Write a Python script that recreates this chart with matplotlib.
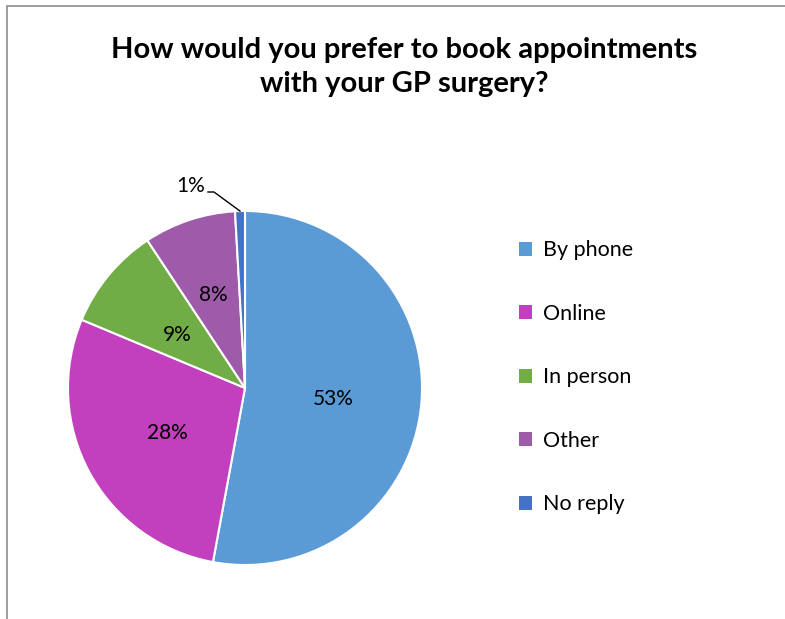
import numpy as np
import matplotlib.pyplot as plt
from matplotlib.patches import Rectangle

# survey answers (percent)
categories = ['By phone', 'Online', 'In person', 'Other', 'No reply']
values = [52.9, 28.4, 9.4, 8.4, 0.9]
pct_labels = ['53%', '28%', '9%', '8%', '1%']
colors = ['#5B9BD5', '#C23FBD', '#70AD47', '#9E5BAA', '#4472C4']

plt.rcParams['font.family'] = ['Lato', 'DejaVu Sans']

W, H = 785, 619
fig = plt.figure(figsize=(W / 100, H / 100), dpi=100)
ax = fig.add_axes([0, 0, 1, 1])

cx, cy, r = 245, H - 388, 177
wedges, _ = ax.pie(values, colors=colors, startangle=90, counterclock=False,
                   center=(cx, cy), radius=r, frame=True,
                   wedgeprops=dict(edgecolor='white', linewidth=1.5))
ax.set_xlim(0, W)
ax.set_ylim(0, H)
ax.axis('off')

# data labels inside the wedges, the small one outside with a leader line
for i, w in enumerate(wedges):
    mid = np.deg2rad((w.theta1 + w.theta2) / 2)
    if values[i] < 3:
        ex, ey = cx + r * np.cos(mid), cy + r * np.sin(mid)
        tx, ty = 205, H - 186
        ax.plot([tx + 3, tx + 9, ex], [ty - 6, ty - 6, ey], color='black', lw=1)
        ax.text(tx, ty, pct_labels[i], ha='right', va='center', fontsize=15)
    else:
        d = 0.57 if values[i] < 9 else 0.5
        ax.text(cx + d * r * np.cos(mid), cy + d * r * np.sin(mid) - 3, pct_labels[i],
                ha='center', va='center', fontsize=15)

fig.text(404 / W, 1 - 67 / H, 'How would you prefer to book appointments\nwith your GP surgery?',
         ha='center', va='center', fontsize=21, fontweight='bold', linespacing=1.4)

leg = ax.legend(wedges, categories, loc='upper left', bbox_to_anchor=(500 / W, 1 - 221 / H),
                bbox_transform=fig.transFigure, frameon=False, fontsize=15.5,
                handlelength=0.6, handleheight=0.6, handletextpad=0.5, labelspacing=2.02)
for h in leg.legend_handles:
    h.set_edgecolor('none')

fig.patches.append(Rectangle((7 / W, -0.1), 1.1, 1 - 6 / H + 0.1, transform=fig.transFigure,
                             fill=False, edgecolor='#8C8C8C', linewidth=1.2))

fig.savefig('out.png', dpi=100, facecolor='white')
